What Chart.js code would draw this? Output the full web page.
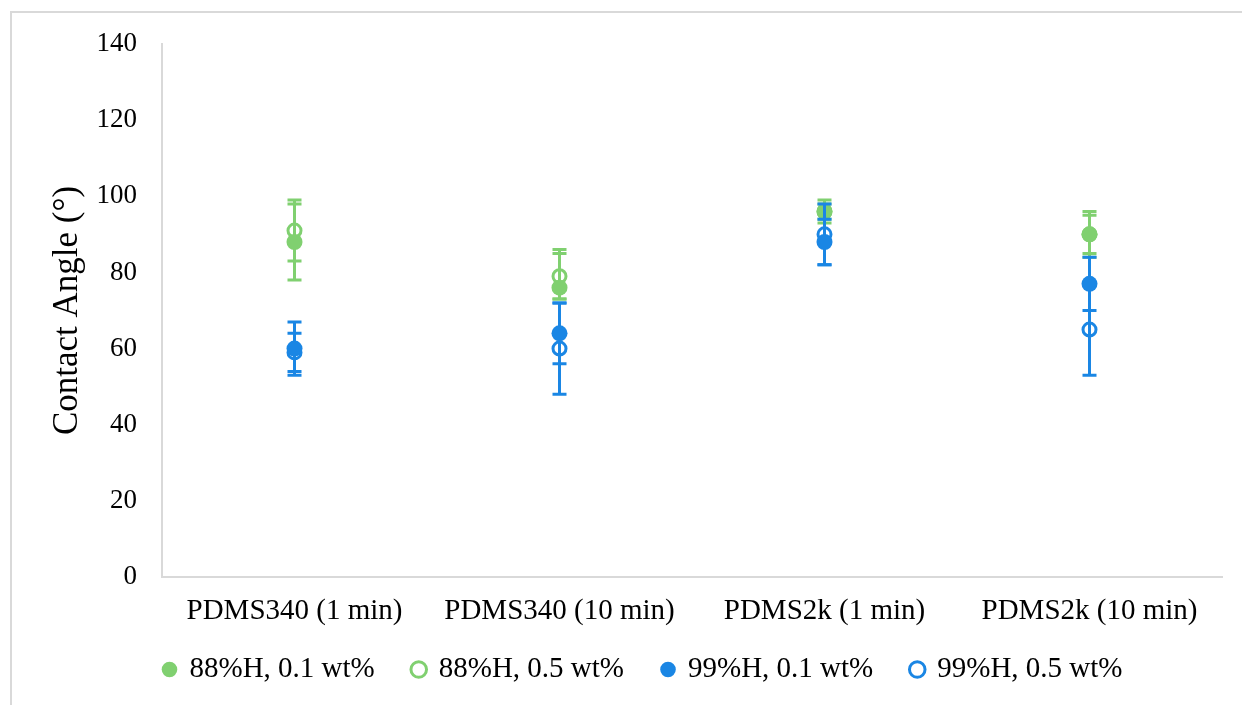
<!DOCTYPE html>
<html>
<head>
<meta charset="utf-8">
<script src="https://cdn.jsdelivr.net/npm/chart.js@4/dist/chart.umd.min.js"></script>
<style>
  html, body { margin: 0; padding: 0; background: #fff; overflow: hidden; }
  #frame { position: absolute; left: 10px; top: 11px; width: 1260px; height: 720px;
           border: 2px solid #d9d9d9; box-sizing: border-box; }
  #wrap { position: absolute; left: 0; top: 0; width: 1242px; height: 705px; }
</style>
</head>
<body>
<div id="frame"></div>
<div id="wrap"><canvas id="c" width="1242" height="705"></canvas></div>
<script>
// Sample groups on the x axis
const categories = ['PDMS340 (1 min)', 'PDMS340 (10 min)', 'PDMS2k (1 min)', 'PDMS2k (10 min)'];

// Contact angle means (degrees) and error bar extents (+ / -)
const h88_01 = [88, 76, 96, 90];
const h88_01_up = [10, 10, 3, 6];
const h88_01_down = [10, 3, 3, 6];

const h88_05 = [91, 79, 96, 90];
const h88_05_up = [8, 6, 2, 5];
const h88_05_down = [8, 6, 2, 5];

const h99_01 = [60, 64, 88, 77];
const h99_01_up = [7, 8, 6, 7];
const h99_01_down = [7, 8, 6, 7];

const h99_05 = [59, 60, 90, 65];
const h99_05_up = [5, 12, 8, 12];
const h99_05_down = [5, 12, 8, 12];

const seriesNames = ['88%H, 0.1 wt%', '88%H, 0.5 wt%', '99%H, 0.1 wt%', '99%H, 0.5 wt%'];

// Y axis range
const yMin = 0, yMax = 140, yStep = 20;

const GREEN = '#80d070';
const BLUE = '#1a86e4';
const AXIS = '#d9d9d9';
const SERIF = "'Liberation Serif', 'Times New Roman', serif";
const LEGEND_GAP = '  '; // extra room after each legend entry

// Vertical error bars with caps, drawn underneath each dataset's markers
const errorBars = {
  id: 'errorBars',
  beforeDatasetDraw(chart, args) {
    const ds = chart.data.datasets[args.index];
    if (!ds.errUp) return;
    const y = chart.scales.y;
    const ctx = chart.ctx;
    ctx.save();
    ctx.strokeStyle = ds.errColor;
    ctx.lineWidth = 3;
    args.meta.data.forEach((pt, i) => {
      const v = ds.data[i];
      const yTop = y.getPixelForValue(v + ds.errUp[i]);
      const yBot = y.getPixelForValue(v - ds.errDown[i]);
      ctx.beginPath();
      ctx.moveTo(pt.x, yTop); ctx.lineTo(pt.x, yBot);
      ctx.moveTo(pt.x - 7, yTop); ctx.lineTo(pt.x + 7, yTop);
      ctx.moveTo(pt.x - 7, yBot); ctx.lineTo(pt.x + 7, yBot);
      ctx.stroke();
    });
    ctx.restore();
  }
};

function filled(label, data, up, down, color, order) {
  return {
    label, data, errUp: up, errDown: down, errColor: color, order,
    showLine: false,
    pointStyle: 'circle', pointRadius: 8, pointHoverRadius: 8,
    pointBackgroundColor: color, pointBorderColor: color, pointBorderWidth: 0,
    backgroundColor: color, borderColor: color, borderWidth: 0
  };
}
function open(label, data, up, down, color, order) {
  return {
    label, data, errUp: up, errDown: down, errColor: color, order,
    showLine: false,
    pointStyle: 'circle', pointRadius: 6.5, pointHoverRadius: 6.5,
    pointBackgroundColor: 'rgba(0,0,0,0)', pointBorderColor: color, pointBorderWidth: 3,
    backgroundColor: 'rgba(0,0,0,0)', borderColor: color, borderWidth: 3
  };
}

new Chart(document.getElementById('c'), {
  type: 'line',
  data: {
    labels: categories,
    datasets: [
      filled(seriesNames[0], h88_01, h88_01_up, h88_01_down, GREEN, 2),
      open(seriesNames[1], h88_05, h88_05_up, h88_05_down, GREEN, 3),
      filled(seriesNames[2], h99_01, h99_01_up, h99_01_down, BLUE, 0),
      open(seriesNames[3], h99_05, h99_05_up, h99_05_down, BLUE, 1)
    ]
  },
  plugins: [errorBars],
  options: {
    responsive: false,
    devicePixelRatio: 1,
    animation: false,
    layout: { padding: { left: 79, top: 44, right: 20, bottom: 11 } },
    plugins: {
      tooltip: { enabled: false },
      legend: {
        position: 'bottom',
        labels: {
          usePointStyle: true,
          boxWidth: 11, boxHeight: 11,
          padding: 24,
          color: '#000',
          font: { family: SERIF, size: 29 },
          sort: (a, b) => a.datasetIndex - b.datasetIndex,
          generateLabels(chart) {
            const items = Chart.defaults.plugins.legend.labels.generateLabels(chart);
            items.forEach(it => { it.text = it.text + LEGEND_GAP; });
            return items;
          }
        }
      }
    },
    scales: {
      x: {
        offset: true,
        grid: { display: false, drawTicks: false },
        border: { display: true, color: AXIS, width: 2 },
        ticks: { color: '#000', padding: 17, font: { family: SERIF, size: 29 }, maxRotation: 0 },
        afterFit(scale) { scale.height = 54; }
      },
      y: {
        min: yMin, max: yMax,
        grid: { display: false, drawTicks: false },
        border: { display: true, color: AXIS, width: 2 },
        ticks: { stepSize: yStep, color: '#000', padding: 25, font: { family: SERIF, size: 27 } },
        title: {
          display: true, text: 'Contact Angle (°)', color: '#000',
          font: { family: SERIF, size: 35 }, padding: { top: -32, bottom: 0 }
        },
        afterFit(scale) { scale.width = 83; }
      }
    }
  }
});
</script>
</body>
</html>
